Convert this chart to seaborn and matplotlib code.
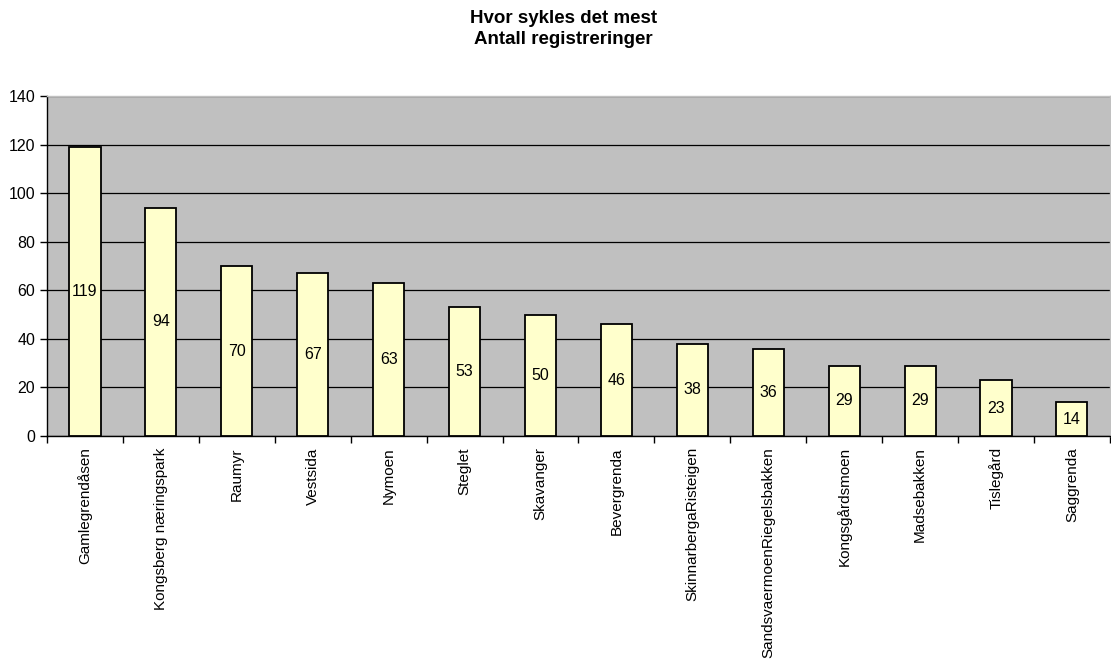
import pandas as pd
import matplotlib.pyplot as plt
import seaborn as sns

# Data
omrader = ['Gamlegrendåsen', 'Kongsberg næringspark', 'Raumyr', 'Vestsida', 'Nymoen',
           'Steglet', 'Skavanger', 'Bevergrenda', 'SkinnarbergaRisteigen',
           'SandsvaermoenRiegelsbakken', 'Kongsgårdsmoen', 'Madsebakken', 'Tislegård', 'Saggrenda']
antall = [119, 94, 70, 67, 63, 53, 50, 46, 38, 36, 29, 29, 23, 14]
y_ticks = [0, 20, 40, 60, 80, 100, 120, 140]

df = pd.DataFrame({'omrade': omrader, 'antall': antall})

sns.set_style('white')
plt.rcParams['font.family'] = ['Liberation Sans', 'DejaVu Sans']
plt.rcParams['text.color'] = 'black'
plt.rcParams['xtick.color'] = 'black'
plt.rcParams['ytick.color'] = 'black'

fig = plt.figure(figsize=(11.11, 6.66), dpi=100)
ax = fig.add_axes([0.0423, 0.3453, 0.9567, 0.5106])
ax.set_facecolor('#C0C0C0')

sns.barplot(data=df, x='omrade', y='antall', color='#FFFFCC', width=0.41,
            edgecolor='black', linewidth=1.3, saturation=1, ax=ax, zorder=3)

# gridlines
ax.set_axisbelow(True)
ax.yaxis.grid(True, color='black', linewidth=0.9)
ax.set_ylim(0, 140)
ax.set_yticks(y_ticks)
ax.set_xlim(-0.5, len(omrader) - 0.5)

# verdietiketter midt i søylene
for i, v in enumerate(antall):
    ax.text(i, v / 2, str(v), ha='center', va='center', fontsize=11.5, color='black', zorder=4)

# ticks mellom kategoriene
ax.set_xticks([i + 0.5 for i in range(-1, len(omrader))], minor=True)
ax.set_xticks(range(len(omrader)))
ax.set_xticklabels(omrader, rotation=90, fontsize=11)
ax.tick_params(axis='x', which='major', length=0, pad=8)
ax.tick_params(axis='x', which='minor', length=5, width=1, color='black', bottom=True)
ax.tick_params(axis='y', length=5, width=1, color='black', left=True, labelsize=11.5)

for s in ax.spines.values():
    s.set_color('black')
    s.set_linewidth(1)
ax.spines['top'].set_color('#C0C0C0')
ax.spines['right'].set_color('#C0C0C0')

ax.set_xlabel('')
ax.set_ylabel('')
fig.suptitle('Hvor sykles det mest\nAntall registreringer', fontsize=13.5, fontweight='bold',
             y=0.985, x=0.507, linespacing=1.3)

fig.savefig('out.png', dpi=100)
